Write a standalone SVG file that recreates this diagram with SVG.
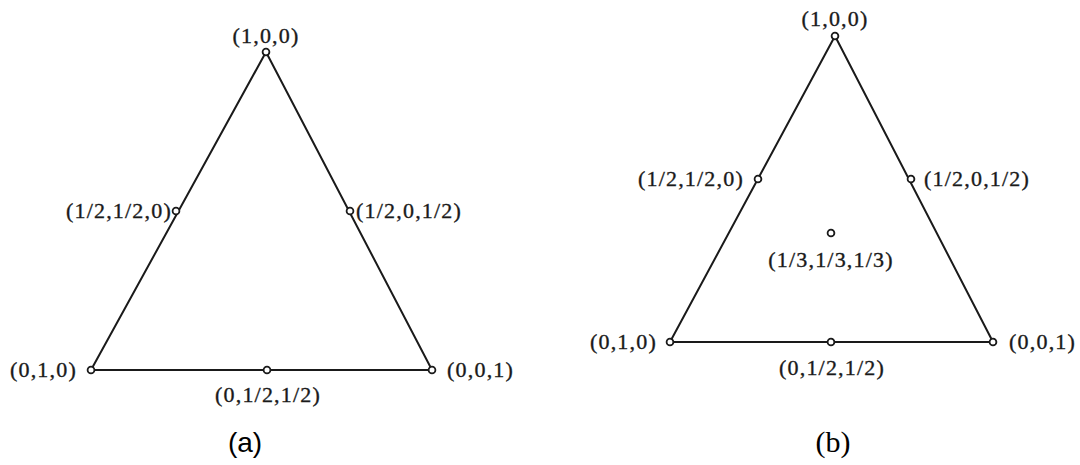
<svg xmlns="http://www.w3.org/2000/svg" width="1080" height="465" viewBox="0 0 1080 465">
<style>
.edge{stroke:#1a1a1a;stroke-width:2;fill:none;stroke-linecap:round}
.pt{fill:#fff;stroke:#1a1a1a;stroke-width:1.8}
.lbl{font-family:"Liberation Serif","Times New Roman",serif;font-size:22px;letter-spacing:1.2px;fill:#1a1a1a;stroke:#1a1a1a;stroke-width:0.35px}
.cap{font-family:"Liberation Sans",Arial,sans-serif;font-size:28px;fill:#000}
.capb{font-family:"Liberation Serif","Times New Roman",serif;font-size:30px;fill:#000}
</style>
<rect width="1080" height="465" fill="#fff"/>
<g id="connectors-a">
<line class="edge" x1="266" y1="52" x2="91" y2="370"/>
<line class="edge" x1="266" y1="52" x2="432" y2="370"/>
<line class="edge" x1="91" y1="370" x2="432" y2="370"/>
</g>
<g id="a-v100"><circle class="pt" cx="266" cy="52" r="3.4"/><text class="lbl" x="266" y="43" text-anchor="middle">(1,0,0)</text></g>
<g id="a-v110"><circle class="pt" cx="176" cy="211" r="3.4"/><text class="lbl" x="172" y="218" text-anchor="end">(1/2,1/2,0)</text></g>
<g id="a-v101"><circle class="pt" cx="350" cy="211" r="3.4"/><text class="lbl" x="356" y="218">(1/2,0,1/2)</text></g>
<g id="a-v010"><circle class="pt" cx="91" cy="370" r="3.4"/><text class="lbl" x="77" y="377" text-anchor="end">(0,1,0)</text></g>
<g id="a-v001"><circle class="pt" cx="432" cy="370" r="3.4"/><text class="lbl" x="447" y="377">(0,0,1)</text></g>
<g id="a-v011"><circle class="pt" cx="267" cy="370" r="3.4"/><text class="lbl" x="268" y="402" text-anchor="middle">(0,1/2,1/2)</text></g>
<text class="cap" x="245" y="452" text-anchor="middle">(a)</text>

<g id="connectors-b">
<line class="edge" x1="835" y1="36" x2="670" y2="342"/>
<line class="edge" x1="835" y1="36" x2="993" y2="342"/>
<line class="edge" x1="670" y1="342" x2="993" y2="342"/>
</g>
<g id="b-v100"><circle class="pt" cx="835" cy="36" r="3.4"/><text class="lbl" x="835" y="26" text-anchor="middle">(1,0,0)</text></g>
<g id="b-v110"><circle class="pt" cx="758" cy="179" r="3.4"/><text class="lbl" x="744" y="186" text-anchor="end">(1/2,1/2,0)</text></g>
<g id="b-v101"><circle class="pt" cx="911" cy="179" r="3.4"/><text class="lbl" x="924" y="186">(1/2,0,1/2)</text></g>
<g id="b-v111"><circle class="pt" cx="831" cy="233" r="3.4"/><text class="lbl" x="831" y="267" text-anchor="middle">(1/3,1/3,1/3)</text></g>
<g id="b-v010"><circle class="pt" cx="670" cy="342" r="3.4"/><text class="lbl" x="657" y="349" text-anchor="end">(0,1,0)</text></g>
<g id="b-v001"><circle class="pt" cx="993" cy="342" r="3.4"/><text class="lbl" x="1009" y="349">(0,0,1)</text></g>
<g id="b-v011"><circle class="pt" cx="831" cy="342" r="3.4"/><text class="lbl" x="832" y="375" text-anchor="middle">(0,1/2,1/2)</text></g>
<text class="capb" x="833" y="452" text-anchor="middle">(b)</text>
</svg>
